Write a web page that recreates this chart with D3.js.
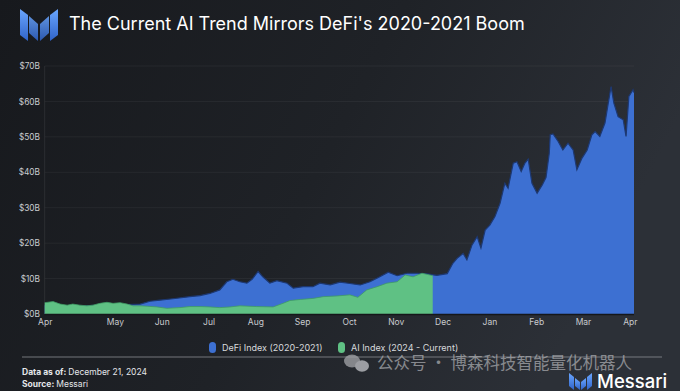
<!DOCTYPE html>
<html><head><meta charset="utf-8">
<script src="https://cdn.jsdelivr.net/npm/d3@7/dist/d3.min.js"></script>
<style>html,body{margin:0;padding:0;background:#1b1d21;}svg{display:block;}</style>
</head><body>
<script>
// ---- data (x in month-axis units: Apr=0, May=1.5, Jun=2.5 ... Apr=12.5) ----
const monthLabels = ["Apr","May","Jun","Jul","Aug","Sep","Oct","Nov","Dec","Jan","Feb","Mar","Apr"];
const monthPos    = [0,1.5,2.5,3.5,4.5,5.5,6.5,7.5,8.5,9.5,10.5,11.5,12.5];
const yTicks = [0,10,20,30,40,50,60,70];

const defiX = [0,0.33,0.75,1.18,1.61,2.04,2.25,2.46,2.74,3.10,3.32,3.53,3.74,3.89,4.02,4.17,4.32,4.43,4.56,4.66,4.81,4.96,5.18,5.31,5.52,5.73,5.88,6.10,6.31,6.52,6.74,6.95,7.16,7.34,7.53,7.74,7.96,8.17,8.38,8.60,8.72,8.81,8.94,9.02,9.13,9.24,9.32,9.41,9.51,9.62,9.73,9.83,9.90,10.01,10.09,10.18,10.26,10.33,10.41,10.52,10.63,10.71,10.78,10.80,10.86,10.97,11.07,11.18,11.29,11.37,11.48,11.59,11.69,11.76,11.86,11.97,12.04,12.10,12.16,12.25,12.36,12.42,12.48,12.57,12.59];
const defiValues = [2.5,2.4,2.2,2.5,2.6,2.8,3.6,3.9,4.3,4.9,5.2,5.8,6.8,9.1,9.8,9.1,8.7,9.8,12.0,10.5,8.7,9.4,8.7,7.3,7.7,7.7,8.7,8.2,9.0,8.6,8.2,9.1,10.5,11.8,10.8,11.5,11.5,11.3,10.9,11.4,14.3,15.7,17.1,15.3,19.5,21.8,18.6,23.7,25.1,27.5,31.3,36.9,35.5,42.6,43.0,40.2,42.6,43.7,36.9,34.1,36.4,38.5,45.4,50.6,50.8,48.7,46.3,48.2,46.3,40.7,44.0,46.3,50.6,51.5,50.1,53.9,59.5,64.2,59.5,55.7,54.8,50.1,61.4,63.3,62.5];

const aiX = [0,0.18,0.33,0.48,0.60,0.75,0.90,1.03,1.18,1.33,1.46,1.61,1.76,1.89,2.04,2.19,2.40,2.61,2.89,3.10,3.32,3.53,3.74,3.96,4.17,4.53,4.88,5.09,5.24,5.46,5.73,5.95,6.25,6.52,6.69,6.88,7.10,7.31,7.53,7.70,7.87,8.06,8.23,8.29];
const aiValues = [3.2,3.5,2.8,2.5,2.8,2.5,2.3,2.5,3.0,3.3,3.0,3.2,2.8,2.3,2.3,2.2,2.0,1.6,1.8,2.1,2.1,2.0,1.8,2.0,2.3,2.1,2.0,3.0,3.8,4.1,4.4,4.9,5.1,5.4,4.7,6.8,7.7,8.7,9.1,11.0,10.5,11.5,11.0,10.8];

const seriesNames = ["DeFi Index (2020-2021)","AI Index (2024 - Current)"];
const seriesColors = ["#3d70d2","#5fc184"];

const W = 680, H = 391;
const svg = d3.select("body").append("svg").attr("width",W).attr("height",H)
  .style("font-family","Inter, 'Noto Sans', sans-serif");

const defs = svg.append("defs");
const bg = defs.append("linearGradient").attr("id","bg").attr("x1","0").attr("y1","0").attr("x2","1").attr("y2","0.3");
bg.append("stop").attr("offset","0").attr("stop-color","#17191d");
bg.append("stop").attr("offset","0.55").attr("stop-color","#1f2227");
bg.append("stop").attr("offset","1").attr("stop-color","#2c3037");
svg.append("rect").attr("width",W).attr("height",H).attr("fill","url(#bg)");

const lg = defs.append("linearGradient").attr("id","logo").attr("x1","0").attr("y1","0").attr("x2","0").attr("y2","1");
lg.append("stop").attr("offset","0").attr("stop-color","#6aa6ff");
lg.append("stop").attr("offset","1").attr("stop-color","#2f63c9");

// scales
const x = d3.scaleLinear().domain([0,12.59]).range([44.7,634]);
const y = d3.scaleLinear().domain([0,70]).range([314,66]);

// gridlines
svg.append("g").selectAll("line").data(yTicks.slice(1)).join("line")
  .attr("x1",x(0)).attr("x2",x(12.59)).attr("y1",d=>y(d)).attr("y2",d=>y(d))
  .attr("stroke","#ffffff").attr("stroke-opacity",0.05);
svg.append("line").attr("x1",x(0)).attr("x2",x(0)).attr("y1",y(70)).attr("y2",y(0))
  .attr("stroke","#ffffff").attr("stroke-opacity",0.08);

// areas
const defi = defiX.map((d,i)=>[d,defiValues[i]]);
const ai = aiX.map((d,i)=>[d,aiValues[i]]);
const area = d3.area().x(d=>x(d[0])).y0(y(0)).y1(d=>y(d[1]));
const line = d3.line().x(d=>x(d[0])).y(d=>y(d[1]));
svg.append("path").attr("d",area(defi)).attr("fill",seriesColors[0]);
svg.append("path").attr("d",line(defi)).attr("fill","none").attr("stroke","#1d3872").attr("stroke-width",1.2);
svg.append("path").attr("d",area(ai)).attr("fill",seriesColors[1]);
svg.append("path").attr("d",line(ai)).attr("fill","none").attr("stroke","#3f9a63").attr("stroke-width",0.8);
svg.append("line").attr("x1",x(0)).attr("x2",x(12.59)).attr("y1",y(0)+0.5).attr("y2",y(0)+0.5).attr("stroke","#15171a").attr("stroke-width",1.5);

// y axis labels
const yAxis = d3.axisLeft(y).tickValues(yTicks).tickFormat(d=>"$"+d+"B").tickSize(0).tickPadding(0);
const gy = svg.append("g").attr("transform","translate(40,0)").call(yAxis);
gy.select(".domain").remove();
gy.selectAll("text").attr("fill","#c9cbcf").style("font-size","8.3px").style("font-family","Inter, sans-serif");

// x axis labels
const xAxis = d3.axisBottom(x).tickValues(monthPos).tickFormat((d,i)=>monthLabels[i]).tickSize(0).tickPadding(0);
const gx = svg.append("g").attr("transform","translate(0,319)").call(xAxis);
gx.select(".domain").remove();
gx.selectAll("text").attr("fill","#c9cbcf").style("font-size","8.5px").style("font-family","Inter, sans-serif").attr("dy","0.7em");

// title & logo
const logo = svg.append("g").attr("fill","url(#logo)");
logo.append("path").attr("d","M20,9 L28,15 L28,41 L20,35 Z");
logo.append("path").attr("d","M29,16 L38,24 L38,41 L29,33 Z").attr("opacity",0.85);
logo.append("path").attr("d","M40,24 L49,16 L49,33 L40,41 Z").attr("opacity",0.85);
logo.append("path").attr("d","M50,15 L58,9 L58,35 L50,41 Z");
svg.append("text").attr("x",69).attr("y",30).text("The Current AI Trend Mirrors DeFi's 2020-2021 Boom")
  .attr("fill","#ffffff").style("font-size","18px").style("font-weight",400);

// legend
const leg = svg.append("g").selectAll("g").data(seriesNames).join("g")
  .attr("transform",(d,i)=>`translate(${[209,338][i]},342)`);
leg.append("rect").attr("width",7).attr("height",11).attr("rx",3.5).attr("fill",(d,i)=>seriesColors[i]);
leg.append("text").attr("x",13).attr("y",8.5).text(d=>d).attr("fill","#d8dadd").style("font-size","9px");

// separator & footer
svg.append("line").attr("x1",22).attr("x2",662).attr("y1",357).attr("y2",357).attr("stroke","#8a8d93").attr("stroke-width",0.8);
const f1 = svg.append("text").attr("x",22).attr("y",375).attr("fill","#e4e6e9").style("font-size","8.5px");
f1.append("tspan").text("Data as of: ").style("font-weight",700);
f1.append("tspan").text("December 21, 2024");
const f2 = svg.append("text").attr("x",22).attr("y",387).attr("fill","#e4e6e9").style("font-size","8.5px");
f2.append("tspan").text("Source: ").style("font-weight",700);
f2.append("tspan").text("Messari");

// watermark
const wm = svg.append("g").attr("opacity",0.75);
wm.append("ellipse").attr("cx",352).attr("cy",361).attr("rx",8).attr("ry",6.5).attr("fill","#a4a6aa");
wm.append("ellipse").attr("cx",362).attr("cy",366).attr("rx",7).attr("ry",5.8).attr("fill","#c4c6ca");
wm.append("text").attr("x",377).attr("y",369).text("公众号 · 博森科技智能量化机器人")
  .attr("fill","#a7a9ad").style("font-size","16.5px").style("font-family","'Noto Sans CJK SC', sans-serif");

// Messari brand bottom-right
const ml = svg.append("g").attr("fill","url(#logo)");
ml.append("path").attr("d","M569,373 L574,377 L574,390 L569,386 Z");
ml.append("path").attr("d","M575,378 L580,382 L580,390 L575,386 Z");
ml.append("path").attr("d","M581,382 L586,378 L586,386 L581,390 Z");
ml.append("path").attr("d","M587,377 L592,373 L592,386 L587,390 Z");
svg.append("text").attr("x",597).attr("y",388).text("Messari").attr("fill","#ffffff")
  .style("font-size","18.5px").style("font-weight",500);
</script>
</body></html>
